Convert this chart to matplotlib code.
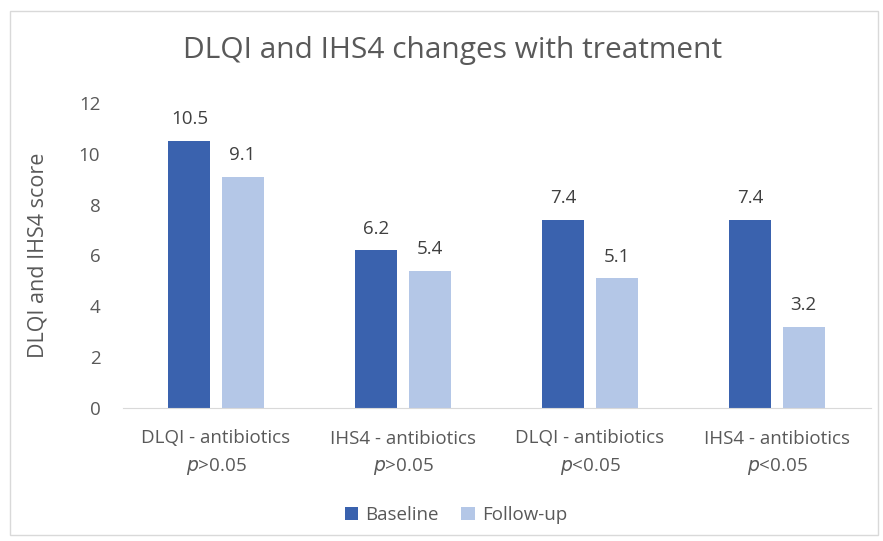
import matplotlib.pyplot as plt
import numpy as np
from matplotlib.patches import Rectangle

categories = ['DLQI - antibiotics', 'IHS4 - antibiotics', 'DLQI - antibiotics', 'IHS4 - antibiotics']
p_labels = ['>0.05', '>0.05', '<0.05', '<0.05']
baseline = [10.5, 6.2, 7.4, 7.4]
follow_up = [9.1, 5.4, 5.1, 3.2]

plt.rcParams['font.family'] = ['Open Sans', 'DejaVu Sans']
txt = '#595959'

fig = plt.figure(figsize=(8.83, 5.41), dpi=100)
ax = fig.add_axes([122.5 / 883, 1 - 408 / 541, 748 / 883, 305 / 541])

x = np.arange(len(categories))
w = 0.225
off = 0.142
b1 = ax.bar(x - off, baseline, w, color='#3A62AE', label='Baseline')
b2 = ax.bar(x + off, follow_up, w, color='#B4C7E7', label='Follow-up')

for bars in (b1, b2):
    for r in bars:
        ax.text(r.get_x() + r.get_width() / 2, r.get_height() + 0.5, f'{r.get_height():.1f}',
                ha='center', va='bottom', fontsize=13.5, color='#404040')

ax.set_xlim(-0.5, 3.5)
ax.set_ylim(0, 12)
ax.set_yticks(range(0, 13, 2))
ax.tick_params(axis='y', length=0, labelsize=13.5, labelcolor=txt, pad=16)
ax.set_xticks(x)
ax.set_xticklabels([''] * 4)
ax.tick_params(axis='x', length=0)
for i, (c, p) in enumerate(zip(categories, p_labels)):
    ax.text(i, -1.2, c, ha='center', va='center', fontsize=13.5, color=txt)
    ax.text(i, -2.3, r'$\it{p}$' + p, ha='center', va='center', fontsize=13.5, color=txt)

for s in ['top', 'right', 'left']:
    ax.spines[s].set_visible(False)
ax.spines['bottom'].set_color('#D9D9D9')

ax.set_ylabel('DLQI and IHS4 score', fontsize=15.5, color=txt, labelpad=22)
fig.text(453 / 883, 1 - 50 / 541, 'DLQI and IHS4 changes with treatment', ha='center', va='center',
         fontsize=21.5, color=txt)

fig.legend(handles=[b1, b2], loc='center', bbox_to_anchor=(456 / 883, 1 - 515 / 541), ncol=2,
           frameon=False, fontsize=13.5, handlelength=0.7, handleheight=0.7, columnspacing=1.2,
           handletextpad=0.4, labelcolor=txt)

fig.patches.append(Rectangle((10 / 883, 6 / 541), 868 / 883, 524 / 541, transform=fig.transFigure,
                             fill=False, edgecolor='#D9D9D9', lw=1))

fig.savefig('out.png', dpi=100)
